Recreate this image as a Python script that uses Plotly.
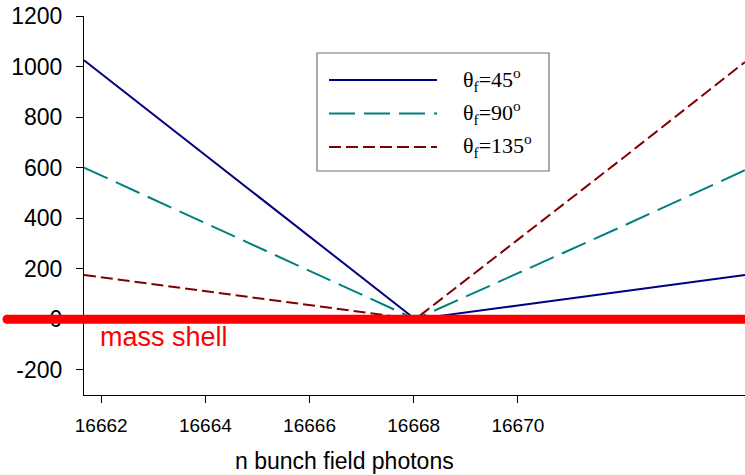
import plotly.graph_objects as go

# ---- data ----
n_photons = [16661.67, 16664, 16666, 16668.03, 16670, 16672, 16674.36]
theta_45 = [1025, 650, 328, 0, 54, 110, 175]
theta_90 = [600, 380, 192, 0, 182, 367, 590]
theta_135 = [175, 111, 56, 0, 315, 635, 1018]
series_names = ["θ<sub>f</sub>=45<sup>o</sup>", "θ<sub>f</sub>=90<sup>o</sup>", "θ<sub>f</sub>=135<sup>o</sup>"]
mass_shell_value = 0
y_ticks = [-200, 0, 200, 400, 600, 800, 1000, 1200]
y_tick_labels = ["-200", "0", "200", "400", "600", "800", "1000", "1200"]
x_ticks = [16662, 16664, 16666, 16668, 16670]
x_tick_labels = ["16662", "16664", "16666", "16668", "16670"]

# ---- geometry helpers (pixel -> paper) ----
W, H = 745, 475
ML, MR, MT, MB = 84, 0, 16, 80
PW, PH = W - ML - MR, H - MT - MB


def px(x):
    return (x - ML) / PW


def py(y):
    return (H - MB - y) / PH


colors = ["#000080", "#008080", "#800000"]
dashes = ["solid", "26px,9px", "12px,5px"]

fig = go.Figure()
for vals, name, c, d in zip([theta_45, theta_90, theta_135], series_names, colors, dashes):
    fig.add_trace(go.Scatter(x=n_photons, y=vals, mode="lines", name=name,
                             line=dict(color=c, width=2, dash=d), showlegend=False))

shapes = []
annotations = []

# legend box
shapes.append(dict(type="rect", xref="paper", yref="paper",
                   x0=px(317), x1=px(549), y0=py(171), y1=py(53),
                   line=dict(color="#707070", width=1.2), fillcolor="white", layer="above"))
rows = [80, 113.5, 147]
for r, name, c, d in zip(rows, series_names, colors, dashes):
    shapes.append(dict(type="line", xref="paper", yref="paper",
                       x0=px(329), x1=px(437), y0=py(r), y1=py(r),
                       line=dict(color=c, width=2, dash=d), layer="above"))
    annotations.append(dict(xref="paper", yref="paper", x=px(462), y=py(r - 1),
                            text=name, showarrow=False, xanchor="left", yanchor="middle",
                            align="left", borderpad=0,
                            font=dict(family="Liberation Serif", size=22, color="black")))

# mass shell line
shapes.append(dict(type="line", xref="paper", yref="y",
                   x0=px(7), x1=1.0, y0=mass_shell_value, y1=mass_shell_value,
                   line=dict(color="#FF0000", width=9), layer="above"))
shapes.append(dict(type="circle", xref="paper", yref="y", xsizemode="pixel", ysizemode="pixel",
                   xanchor=px(7), yanchor=mass_shell_value, x0=-4.5, x1=4.5, y0=-4.5, y1=4.5,
                   fillcolor="#FF0000", line=dict(width=0), layer="above"))
annotations.append(dict(xref="paper", yref="paper", x=px(98), y=py(337),
                        text="mass shell", showarrow=False, xanchor="left", yanchor="middle",
                        font=dict(family="Liberation Sans", size=27, color="#FF0000")))

# x axis title
annotations.append(dict(xref="paper", yref="paper", x=px(344), y=py(461),
                        text="n bunch field photons", showarrow=False, xanchor="center",
                        yanchor="middle",
                        font=dict(family="Liberation Sans", size=23, color="black")))

fig.update_layout(
    width=W, height=H,
    margin=dict(l=ML, r=MR, t=MT, b=MB),
    paper_bgcolor="white", plot_bgcolor="white",
    shapes=shapes, annotations=annotations,
    showlegend=False,
    xaxis=dict(range=[16661.67, 16674.36], tickvals=x_ticks, ticktext=x_tick_labels,
               ticks="outside", ticklen=7, automargin=False,
               tickcolor="black", showline=True, linecolor="black", linewidth=1,
               showgrid=False, zeroline=False, ticklabelstandoff=6,
               tickfont=dict(family="Liberation Sans", size=19, color="black")),
    yaxis=dict(range=[-300, 1200], tickvals=y_ticks, ticktext=y_tick_labels,
               ticks="outside", ticklen=7, automargin=False,
               tickcolor="black", showline=True, linecolor="black", linewidth=1,
               showgrid=False, zeroline=False, ticklabelstandoff=9,
               tickfont=dict(family="Liberation Sans", size=23, color="black")),
)

fig.write_html("out.html", config={"displayModeBar": False},
               post_script="document.body.style.margin='0';document.body.style.overflow='hidden';")
